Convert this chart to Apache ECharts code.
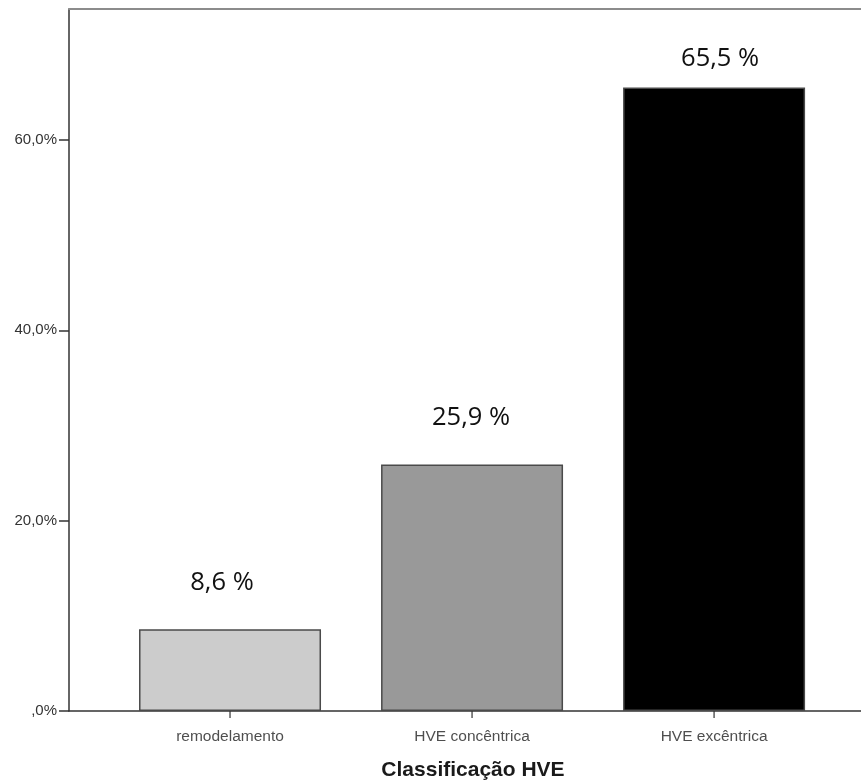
<!DOCTYPE html>
<html><head><meta charset="utf-8">
<script src="https://cdn.jsdelivr.net/npm/echarts@6/dist/echarts.min.js"></script>
<style>html,body{margin:0;padding:0;background:#fff}#c{width:861px;height:784px}</style>
</head><body><div id="c"></div>
<script>
const categories = ['remodelamento', 'HVE concêntrica', 'HVE excêntrica'];
const values = [8.6, 25.9, 65.5];
const valueLabels = ['8,6 %', '25,9 %', '65,5 %'];
const yTicks = [0, 20, 40, 60];
const yTickLabels = [',0%', '20,0%', '40,0%', '60,0%'];
const axisTitle = 'Classificação HVE';

const colors = ['#cccccc', '#999999', '#000000'];
const labelDist = [33, 34, 16];
const labelShift = [-8, -1, 6];

const chart = echarts.init(document.getElementById('c'));
chart.setOption({
  animation: false,
  grid: { left: 69, right: 0, top: 9, bottom: 73 },
  graphic: [{
    type: 'text', x: 473, y: 770,
    style: { text: axisTitle, fontFamily: 'Liberation Sans', fontWeight: 'bold', fontSize: 21, fill: '#1a1a1a',
      textAlign: 'center', textVerticalAlign: 'middle' }
  }],
  xAxis: [{
    type: 'value', min: 0.3347, max: 3.607,
    axisLine: { show: true, lineStyle: { color: '#333', width: 1.5 } },
    axisTick: { show: false }, axisLabel: { show: false }, splitLine: { show: false }
  }, {
    type: 'value', position: 'top', min: 0.3347, max: 3.607,
    axisLine: { show: true, onZero: false, lineStyle: { color: '#8c8c8c', width: 2 } },
    axisTick: { show: false }, axisLabel: { show: false }, splitLine: { show: false }
  }],
  yAxis: {
    type: 'value', min: 0, max: 73.75,
    axisLine: { show: true, lineStyle: { color: '#333', width: 1.5 } },
    axisTick: { show: true, length: 10, customValues: yTicks, lineStyle: { color: '#333', width: 1.5 } },
    axisLabel: { customValues: yTicks, formatter: v => yTickLabels[yTicks.indexOf(v)], margin: 12,
      fontFamily: 'Liberation Sans', fontSize: 15, color: '#333' },
    splitLine: { show: false }
  },
  series: [
    {
      type: 'bar', barWidth: 182,
      data: values.map((v, i) => ({
        value: [i + 1, v],
        itemStyle: { color: colors[i], borderColor: '#4a4a4a', borderWidth: 1.5 },
        label: { show: true, position: 'top', distance: labelDist[i], formatter: valueLabels[i],
          fontFamily: 'Open Sans', fontSize: 25.5, color: '#111', offset: [labelShift[i], 0] }
      }))
    },
    {
      type: 'scatter', symbol: 'rect', symbolSize: [1.5, 7], symbolOffset: [0, 3.5],
      itemStyle: { color: '#333' }, silent: true,
      data: categories.map((c, i) => ({
        value: [i + 1, 0],
        label: { show: true, position: 'bottom', distance: 11, formatter: c,
          fontFamily: 'Liberation Sans', fontSize: 15.5, color: '#222' }
      }))
    }
  ]
});
</script></body></html>
